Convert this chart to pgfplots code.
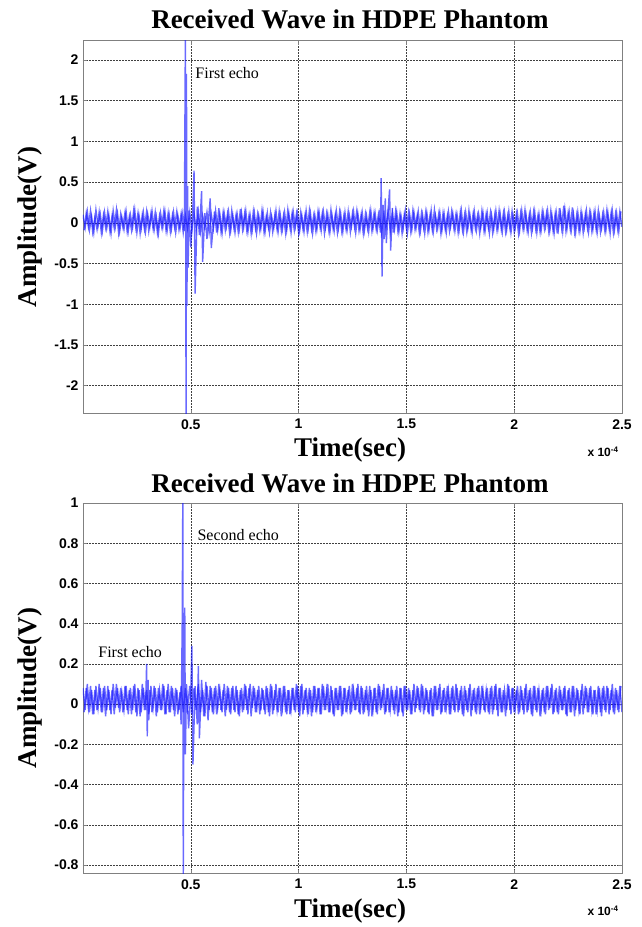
\documentclass[border=0pt]{standalone}
\usepackage{fontspec}
\setmainfont{Liberation Serif}
\setsansfont{Liberation Sans}
\usepackage{pgfplots}
\pgfplotsset{compat=1.18}
\definecolor{wave}{rgb}{0.1,0.1,1}
\pgfplotsset{
  matlab/.style={
    scale only axis,
    width=539pt,
    xmin=0, xmax=2.5,
    xtick={0.5,1,1.5,2,2.5},
    xticklabels={0.5,1,1.5,2,2.5},
    grid=major,
    major grid style={black!75, line width=0.5pt, dash pattern=on 1.6pt off 1.4pt},
    axis line style={gray, line width=0.9pt},
    tick align=inside,
    major tick length=4pt,
    tick style={gray, line width=0.6pt},
    /pgf/number format/assume math mode=true,
    ticklabel style={font=\fontsize{14}{14}\selectfont\bfseries\sffamily},
    xticklabel style={yshift=-2pt},
    yticklabel style={xshift=-1pt},
    clip=true,
  },
  wavestyle/.style={color=wave, opacity=0.65, line width=1.4pt, mark=none},
}
\begin{document}
\begin{tikzpicture}[x=1pt,y=1pt]
\useasboundingbox (0,0) rectangle (642,-927);
% ---------------- top axis ----------------
\begin{axis}[matlab,
  at={(83pt,-40.7pt)}, anchor=north west,
  height=373pt,
  ymin=-2.344, ymax=2.237,
  ytick={-2,-1.5,-1,-0.5,0,0.5,1,1.5,2},
  yticklabels={-2,-1.5,-1,-0.5,0,0.5,1,1.5,2},
]
\addplot[wavestyle] coordinates {
(0.00,0.10)(0.01,-0.06)(0.02,0.14)(0.03,-0.09)(0.04,0.08)(0.05,-0.12)(0.06,0.16)(0.07,-0.04)(0.08,0.11)(0.09,-0.10)
(0.10,0.13)(0.11,-0.07)(0.12,0.09)(0.13,-0.13)(0.14,0.15)(0.15,-0.05)(0.16,0.12)(0.17,-0.11)(0.18,0.07)(0.19,-0.08)
(0.20,0.14)(0.21,-0.10)(0.22,0.10)(0.23,-0.06)(0.24,0.16)(0.25,-0.12)(0.26,0.09)(0.27,-0.07)(0.28,0.13)(0.29,-0.11)
(0.30,0.11)(0.31,-0.05)(0.32,0.15)(0.33,-0.09)(0.34,0.08)(0.35,-0.13)(0.36,0.12)(0.37,-0.06)(0.38,0.14)(0.39,-0.10)
(0.40,0.10)(0.41,-0.08)(0.42,0.13)(0.43,-0.12)(0.44,0.09)(0.45,-0.07)
(0.460,0.12)(0.470,-0.10)(0.475,2.40)(0.478,-2.45)(0.480,1.83)(0.482,-1.02)(0.485,0.45)(0.488,-0.55)
(0.490,0.15)(0.500,-0.30)(0.510,0.22)(0.515,0.64)(0.520,-0.87)(0.530,0.20)(0.540,-0.15)(0.550,0.39)(0.555,-0.48)
(0.565,0.12)(0.575,-0.20)(0.590,0.30)(0.595,-0.31)(0.610,0.14)(0.620,-0.12)(0.630,0.18)(0.640,-0.10)
(0.65,0.13)(0.66,-0.09)(0.67,0.11)(0.68,-0.12)(0.69,0.15)
(0.70,-0.06)(0.71,0.10)(0.72,-0.11)(0.73,0.17)(0.74,-0.08)(0.75,0.12)(0.76,-0.10)(0.77,0.09)(0.78,-0.13)(0.79,0.14)
(0.80,-0.07)(0.81,0.11)(0.82,-0.09)(0.83,0.15)(0.84,-0.12)(0.85,0.08)(0.86,-0.06)(0.87,0.13)(0.88,-0.11)(0.89,0.10)
(0.90,-0.08)(0.91,0.14)(0.92,-0.10)(0.93,0.09)(0.94,-0.13)(0.95,0.16)(0.96,-0.05)(0.97,0.12)(0.98,-0.09)(0.99,0.11)
(1.00,-0.12)(1.01,0.13)(1.02,-0.07)(1.03,0.10)(1.04,-0.11)(1.05,0.15)(1.06,-0.08)(1.07,0.09)(1.08,-0.10)(1.09,0.14)
(1.10,-0.06)(1.11,0.12)(1.12,-0.13)(1.13,0.11)(1.14,-0.09)(1.15,0.16)(1.16,-0.07)(1.17,0.10)(1.18,-0.12)(1.19,0.13)
(1.20,-0.10)(1.21,0.09)(1.22,-0.08)(1.23,0.14)(1.24,-0.11)(1.25,0.12)(1.26,-0.06)(1.27,0.15)(1.28,-0.09)(1.29,0.10)
(1.30,-0.13)(1.31,0.11)(1.32,-0.07)(1.33,0.13)(1.34,-0.10)(1.35,0.12)(1.36,-0.08)
(1.370,0.10)(1.380,-0.12)(1.383,0.55)(1.387,-0.66)(1.392,0.22)(1.397,-0.20)(1.402,0.30)(1.407,-0.25)
(1.415,0.15)(1.422,0.41)(1.427,-0.34)(1.435,0.18)(1.440,-0.12)
(1.45,0.14)(1.46,-0.09)(1.47,0.11)(1.48,-0.13)(1.49,0.10)
(1.50,-0.07)(1.51,0.13)(1.52,-0.10)(1.53,0.15)(1.54,-0.08)(1.55,0.09)(1.56,-0.12)(1.57,0.12)(1.58,-0.06)(1.59,0.14)
(1.60,-0.11)(1.61,0.10)(1.62,-0.09)(1.63,0.16)(1.64,-0.07)(1.65,0.11)(1.66,-0.13)(1.67,0.12)(1.68,-0.08)(1.69,0.09)
(1.70,-0.10)(1.71,0.14)(1.72,-0.06)(1.73,0.11)(1.74,-0.12)(1.75,0.13)(1.76,-0.09)(1.77,0.10)(1.78,-0.11)(1.79,0.15)
(1.80,-0.08)(1.81,0.12)(1.82,-0.07)(1.83,0.09)(1.84,-0.13)(1.85,0.14)(1.86,-0.10)(1.87,0.11)(1.88,-0.06)(1.89,0.13)
(1.90,-0.12)(1.91,0.10)(1.92,-0.09)(1.93,0.15)(1.94,-0.08)(1.95,0.12)(1.96,-0.11)(1.97,0.09)(1.98,-0.07)(1.99,0.14)
(2.00,-0.10)(2.01,0.11)(2.02,-0.13)(2.03,0.12)(2.04,-0.06)(2.05,0.16)(2.06,-0.09)(2.07,0.10)(2.08,-0.12)(2.09,0.13)
(2.10,-0.08)(2.11,0.09)(2.12,-0.11)(2.13,0.14)(2.14,-0.07)(2.15,0.12)(2.16,-0.10)(2.17,0.15)(2.18,-0.09)(2.19,0.11)
(2.20,-0.13)(2.21,0.18)(2.22,-0.06)(2.23,0.21)(2.24,-0.10)(2.25,0.12)(2.26,-0.08)(2.27,0.19)(2.28,-0.11)(2.29,0.10)
(2.30,-0.09)(2.31,0.14)(2.32,-0.12)(2.33,0.11)(2.34,-0.07)(2.35,0.13)(2.36,-0.10)(2.37,0.12)(2.38,-0.08)(2.39,0.15)
(2.40,-0.11)(2.41,0.10)(2.42,-0.09)(2.43,0.16)(2.44,-0.06)(2.45,0.13)(2.46,-0.12)(2.47,0.11)(2.48,-0.08)(2.49,0.14)(2.50,-0.05)
};
\addplot[wavestyle] coordinates {
(0.005,-0.09)(0.015,0.12)(0.025,-0.05)(0.035,0.15)(0.045,-0.11)(0.055,0.07)(0.065,-0.08)(0.075,0.13)(0.085,-0.12)(0.095,0.10)
(0.105,-0.06)(0.115,0.14)(0.125,-0.10)(0.135,0.09)(0.145,-0.07)(0.155,0.16)(0.165,-0.12)(0.175,0.11)(0.185,-0.05)(0.195,0.13)
(0.205,-0.11)(0.215,0.08)(0.225,-0.09)(0.235,0.15)(0.245,-0.06)(0.255,0.12)(0.265,-0.13)(0.275,0.10)(0.285,-0.08)(0.295,0.14)
(0.305,-0.10)(0.315,0.11)(0.325,-0.07)(0.335,0.13)(0.345,-0.12)(0.355,0.09)(0.365,-0.05)(0.375,0.15)(0.385,-0.09)(0.395,0.12)
(0.405,-0.11)(0.415,0.10)(0.425,-0.06)(0.435,0.14)(0.445,-0.08)(0.455,0.11)(0.465,-0.12)(0.475,0.09)(0.485,-0.07)(0.495,0.13)
(0.505,-0.10)(0.515,0.12)(0.525,-0.08)(0.535,0.14)(0.545,-0.11)(0.555,0.09)(0.565,-0.06)(0.575,0.13)(0.585,-0.12)(0.595,0.11)
(0.605,-0.07)(0.615,0.15)(0.625,-0.09)(0.635,0.10)(0.645,-0.13)(0.655,0.12)(0.665,-0.05)(0.675,0.14)(0.685,-0.10)(0.695,0.09)
(0.705,-0.12)(0.715,0.11)(0.725,-0.08)(0.735,0.13)(0.745,-0.06)(0.755,0.15)(0.765,-0.11)(0.775,0.10)(0.785,-0.09)(0.795,0.12)
(0.805,-0.13)(0.815,0.09)(0.825,-0.07)(0.835,0.14)(0.845,-0.10)(0.855,0.12)(0.865,-0.12)(0.875,0.08)(0.885,-0.06)(0.895,0.15)
(0.905,-0.11)(0.915,0.10)(0.925,-0.08)(0.935,0.13)(0.945,-0.09)(0.955,0.11)(0.965,-0.12)(0.975,0.14)(0.985,-0.05)(0.995,0.12)
(1.005,-0.10)(1.015,0.09)(1.025,-0.11)(1.035,0.15)(1.045,-0.07)(1.055,0.12)(1.065,-0.13)(1.075,0.10)(1.085,-0.08)(1.095,0.13)
(1.105,-0.09)(1.115,0.14)(1.125,-0.06)(1.135,0.11)(1.145,-0.12)(1.155,0.09)(1.165,-0.10)(1.175,0.15)(1.185,-0.07)(1.195,0.12)
(1.205,-0.11)(1.215,0.13)(1.225,-0.09)(1.235,0.10)(1.245,-0.05)(1.255,0.14)(1.265,-0.12)(1.275,0.11)(1.285,-0.08)(1.295,0.13)
(1.305,-0.10)(1.315,0.09)(1.325,-0.11)(1.335,0.15)(1.345,-0.07)(1.355,0.12)(1.365,-0.09)(1.375,0.11)(1.385,-0.12)(1.395,0.10)
(1.405,-0.06)(1.415,0.14)(1.425,-0.10)(1.435,0.12)(1.445,-0.08)(1.455,0.13)(1.465,-0.11)(1.475,0.09)(1.485,-0.07)(1.495,0.15)
(1.505,-0.12)(1.515,0.11)(1.525,-0.09)(1.535,0.13)(1.545,-0.06)(1.555,0.14)(1.565,-0.10)(1.575,0.10)(1.585,-0.13)(1.595,0.12)
(1.605,-0.08)(1.615,0.15)(1.625,-0.11)(1.635,0.09)(1.645,-0.07)(1.655,0.13)(1.665,-0.09)(1.675,0.11)(1.685,-0.12)(1.695,0.14)
(1.705,-0.05)(1.715,0.12)(1.725,-0.10)(1.735,0.10)(1.745,-0.08)(1.755,0.15)(1.765,-0.11)(1.775,0.13)(1.785,-0.07)(1.795,0.09)
(1.805,-0.12)(1.815,0.14)(1.825,-0.09)(1.835,0.11)(1.845,-0.06)(1.855,0.13)(1.865,-0.10)(1.875,0.12)(1.885,-0.13)(1.895,0.10)
(1.905,-0.08)(1.915,0.15)(1.925,-0.07)(1.935,0.11)(1.945,-0.11)(1.955,0.13)(1.965,-0.09)(1.975,0.14)(1.985,-0.12)(1.995,0.09)
(2.005,-0.06)(2.015,0.12)(2.025,-0.10)(2.035,0.15)(2.045,-0.08)(2.055,0.10)(2.065,-0.11)(2.075,0.13)(2.085,-0.07)(2.095,0.14)
(2.105,-0.12)(2.115,0.11)(2.125,-0.09)(2.135,0.12)(2.145,-0.05)(2.155,0.15)(2.165,-0.10)(2.175,0.09)(2.185,-0.13)(2.195,0.13)
(2.205,-0.08)(2.215,0.12)(2.225,-0.11)(2.235,0.17)(2.245,-0.07)(2.255,0.14)(2.265,-0.09)(2.275,0.11)(2.285,-0.12)(2.295,0.13)
(2.305,-0.10)(2.315,0.10)(2.325,-0.06)(2.335,0.15)(2.345,-0.11)(2.355,0.12)(2.365,-0.08)(2.375,0.14)(2.385,-0.12)(2.395,0.09)
(2.405,-0.07)(2.415,0.13)(2.425,-0.10)(2.435,0.11)(2.445,-0.13)(2.455,0.15)(2.465,-0.09)(2.475,0.12)(2.485,-0.11)(2.495,0.14)
};
\node[anchor=west, font=\fontsize{16}{16}\selectfont] at (axis cs:0.505,1.84) {First echo};
\end{axis}
% ---------------- bottom axis ----------------
\begin{axis}[matlab,
  at={(83pt,-503pt)}, anchor=north west,
  height=370.7pt,
  ymin=-0.843, ymax=1,
  ytick={-0.8,-0.6,-0.4,-0.2,0,0.2,0.4,0.6,0.8,1},
  yticklabels={-0.8,-0.6,-0.4,-0.2,0,0.2,0.4,0.6,0.8,1},
]
\addplot[wavestyle] coordinates {
(0.00,0.08)(0.01,-0.03)(0.02,0.10)(0.03,-0.04)(0.04,0.07)(0.05,-0.05)(0.06,0.09)(0.07,-0.02)(0.08,0.08)(0.09,-0.04)
(0.10,0.09)(0.11,-0.03)(0.12,0.07)(0.13,-0.05)(0.14,0.10)(0.15,-0.02)(0.16,0.08)(0.17,-0.04)(0.18,0.06)(0.19,-0.03)
(0.20,0.09)(0.21,-0.05)(0.22,0.08)(0.23,-0.03)(0.24,0.10)(0.25,-0.06)(0.26,0.07)(0.27,-0.04)(0.28,0.08)
(0.290,-0.03)(0.295,0.20)(0.298,-0.16)(0.302,0.12)(0.305,-0.08)
(0.31,0.07)(0.32,-0.04)(0.33,0.09)(0.34,-0.06)(0.35,0.08)(0.36,-0.03)(0.37,0.10)(0.38,-0.05)(0.39,0.07)(0.40,-0.04)
(0.41,0.09)(0.42,-0.03)(0.43,0.08)(0.44,-0.05)
(0.450,0.06)(0.455,-0.10)(0.460,0.38)(0.463,1.05)(0.465,-0.90)(0.468,0.13)(0.472,0.48)(0.475,-0.25)
(0.480,0.10)(0.490,-0.12)(0.500,0.06)(0.505,0.29)(0.510,-0.30)(0.520,0.09)(0.530,-0.10)(0.535,0.19)(0.540,-0.17)
(0.550,0.12)(0.560,-0.06)(0.570,0.11)(0.580,-0.08)(0.590,0.09)
(0.60,-0.04)(0.61,0.08)(0.62,-0.05)(0.63,0.10)(0.64,-0.03)(0.65,0.07)(0.66,-0.06)(0.67,0.09)(0.68,-0.04)(0.69,0.08)
(0.70,-0.03)(0.71,0.09)(0.72,-0.05)(0.73,0.07)(0.74,-0.04)(0.75,0.10)(0.76,-0.03)(0.77,0.08)(0.78,-0.06)(0.79,0.09)
(0.80,-0.04)(0.81,0.07)(0.82,-0.05)(0.83,0.08)(0.84,-0.03)(0.85,0.09)(0.86,-0.04)(0.87,0.10)(0.88,-0.05)(0.89,0.07)
(0.90,-0.03)(0.91,0.08)(0.92,-0.06)(0.93,0.09)(0.94,-0.04)(0.95,0.07)(0.96,-0.05)(0.97,0.08)(0.98,-0.03)(0.99,0.10)
(1.00,-0.04)(1.01,0.09)(1.02,-0.05)(1.03,0.07)(1.04,-0.03)(1.05,0.08)(1.06,-0.06)(1.07,0.09)(1.08,-0.04)(1.09,0.08)
(1.10,-0.05)(1.11,0.10)(1.12,-0.03)(1.13,0.07)(1.14,-0.04)(1.15,0.09)(1.16,-0.05)(1.17,0.08)(1.18,-0.03)(1.19,0.09)
(1.20,-0.06)(1.21,0.08)(1.22,-0.04)(1.23,0.07)(1.24,-0.05)(1.25,0.10)(1.26,-0.03)(1.27,0.08)(1.28,-0.04)(1.29,0.09)
(1.30,-0.05)(1.31,0.07)(1.32,-0.03)(1.33,0.09)(1.34,-0.06)(1.35,0.08)(1.36,-0.04)(1.37,0.10)(1.38,-0.03)(1.39,0.07)
(1.40,-0.05)(1.41,0.08)(1.42,-0.04)(1.43,0.09)(1.44,-0.03)(1.45,0.07)(1.46,-0.06)(1.47,0.08)(1.48,-0.04)(1.49,0.09)
(1.50,-0.03)(1.51,0.08)(1.52,-0.05)(1.53,0.07)(1.54,-0.04)(1.55,0.09)(1.56,-0.03)(1.57,0.10)(1.58,-0.05)(1.59,0.08)
(1.60,-0.04)(1.61,0.07)(1.62,-0.06)(1.63,0.09)(1.64,-0.03)(1.65,0.08)(1.66,-0.05)(1.67,0.07)(1.68,-0.04)(1.69,0.09)
(1.70,-0.05)(1.71,0.08)(1.72,-0.03)(1.73,0.10)(1.74,-0.04)(1.75,0.07)(1.76,-0.05)(1.77,0.09)(1.78,-0.03)(1.79,0.08)
(1.80,-0.06)(1.81,0.07)(1.82,-0.04)(1.83,0.08)(1.84,-0.05)(1.85,0.09)(1.86,-0.03)(1.87,0.07)(1.88,-0.04)(1.89,0.08)
(1.90,-0.05)(1.91,0.09)(1.92,-0.03)(1.93,0.08)(1.94,-0.04)(1.95,0.07)(1.96,-0.06)(1.97,0.10)(1.98,-0.03)(1.99,0.08)
(2.00,-0.04)(2.01,0.07)(2.02,-0.05)(2.03,0.09)(2.04,-0.03)(2.05,0.08)(2.06,-0.04)(2.07,0.07)(2.08,-0.05)(2.09,0.09)
(2.10,-0.03)(2.11,0.08)(2.12,-0.06)(2.13,0.07)(2.14,-0.04)(2.15,0.09)(2.16,-0.03)(2.17,0.08)(2.18,-0.05)(2.19,0.07)
(2.20,-0.04)(2.21,0.09)(2.22,-0.03)(2.23,0.08)(2.24,-0.05)(2.25,0.07)(2.26,-0.04)(2.27,0.09)(2.28,-0.06)(2.29,0.08)
(2.30,-0.03)(2.31,0.07)(2.32,-0.05)(2.33,0.09)(2.34,-0.04)(2.35,0.08)(2.36,-0.03)(2.37,0.07)(2.38,-0.05)(2.39,0.09)
(2.40,-0.04)(2.41,0.08)(2.42,-0.03)(2.43,0.09)(2.44,-0.05)(2.45,0.07)(2.46,-0.04)(2.47,0.08)(2.48,-0.03)(2.49,0.09)(2.50,-0.04)
};
\addplot[wavestyle] coordinates {
(0.005,-0.04)(0.015,0.08)(0.025,-0.02)(0.035,0.09)(0.045,-0.05)(0.055,0.07)(0.065,-0.03)(0.075,0.10)(0.085,-0.04)(0.095,0.08)
(0.105,-0.06)(0.115,0.09)(0.125,-0.03)(0.135,0.07)(0.145,-0.05)(0.155,0.10)(0.165,-0.02)(0.175,0.08)(0.185,-0.04)(0.195,0.09)
(0.205,-0.03)(0.215,0.07)(0.225,-0.05)(0.235,0.09)(0.245,-0.04)(0.255,0.08)(0.265,-0.06)(0.275,0.10)(0.285,-0.03)(0.295,0.07)
(0.305,-0.05)(0.315,0.09)(0.325,-0.02)(0.335,0.08)(0.345,-0.04)(0.355,0.07)(0.365,-0.03)(0.375,0.09)(0.385,-0.05)(0.395,0.10)
(0.405,-0.04)(0.415,0.08)(0.425,-0.06)(0.435,0.07)(0.445,-0.03)(0.455,0.09)(0.465,-0.04)(0.475,0.08)(0.485,-0.02)(0.495,0.09)
(0.505,-0.05)(0.515,0.08)(0.525,-0.03)(0.535,0.10)(0.545,-0.04)(0.555,0.07)(0.565,-0.06)(0.575,0.09)(0.585,-0.03)(0.595,0.08)
(0.605,-0.05)(0.615,0.09)(0.625,-0.02)(0.635,0.07)(0.645,-0.04)(0.655,0.10)(0.665,-0.03)(0.675,0.08)(0.685,-0.05)(0.695,0.09)
(0.705,-0.04)(0.715,0.07)(0.725,-0.06)(0.735,0.08)(0.745,-0.03)(0.755,0.09)(0.765,-0.05)(0.775,0.10)(0.785,-0.02)(0.795,0.08)
(0.805,-0.04)(0.815,0.09)(0.825,-0.03)(0.835,0.07)(0.845,-0.05)(0.855,0.08)(0.865,-0.06)(0.875,0.09)(0.885,-0.03)(0.895,0.10)
(0.905,-0.04)(0.915,0.08)(0.925,-0.02)(0.935,0.09)(0.945,-0.05)(0.955,0.07)(0.965,-0.03)(0.975,0.08)(0.985,-0.04)(0.995,0.09)
(1.005,-0.06)(1.015,0.10)(1.025,-0.03)(1.035,0.08)(1.045,-0.05)(1.055,0.07)(1.065,-0.04)(1.075,0.09)(1.085,-0.02)(1.095,0.08)
(1.105,-0.05)(1.115,0.09)(1.125,-0.03)(1.135,0.10)(1.145,-0.04)(1.155,0.07)(1.165,-0.06)(1.175,0.08)(1.185,-0.03)(1.195,0.09)
(1.205,-0.05)(1.215,0.08)(1.225,-0.02)(1.235,0.09)(1.245,-0.04)(1.255,0.07)(1.265,-0.03)(1.275,0.10)(1.285,-0.05)(1.295,0.08)
(1.305,-0.04)(1.315,0.09)(1.325,-0.06)(1.335,0.07)(1.345,-0.03)(1.355,0.08)(1.365,-0.05)(1.375,0.09)(1.385,-0.02)(1.395,0.10)
(1.405,-0.04)(1.415,0.08)(1.425,-0.03)(1.435,0.07)(1.445,-0.05)(1.455,0.09)(1.465,-0.04)(1.475,0.08)(1.485,-0.06)(1.495,0.09)
(1.505,-0.03)(1.515,0.07)(1.525,-0.05)(1.535,0.10)(1.545,-0.02)(1.555,0.08)(1.565,-0.04)(1.575,0.09)(1.585,-0.03)(1.595,0.07)
(1.605,-0.05)(1.615,0.08)(1.625,-0.06)(1.635,0.09)(1.645,-0.03)(1.655,0.10)(1.665,-0.04)(1.675,0.08)(1.685,-0.02)(1.695,0.07)
(1.705,-0.05)(1.715,0.09)(1.725,-0.04)(1.735,0.08)(1.745,-0.03)(1.755,0.09)(1.765,-0.06)(1.775,0.07)(1.785,-0.04)(1.795,0.10)
(1.805,-0.03)(1.815,0.08)(1.825,-0.05)(1.835,0.09)(1.845,-0.02)(1.855,0.07)(1.865,-0.04)(1.875,0.08)(1.885,-0.05)(1.895,0.09)
(1.905,-0.03)(1.915,0.10)(1.925,-0.06)(1.935,0.08)(1.945,-0.04)(1.955,0.07)(1.965,-0.03)(1.975,0.09)(1.985,-0.05)(1.995,0.08)
(2.005,-0.02)(2.015,0.09)(2.025,-0.04)(2.035,0.07)(2.045,-0.05)(2.055,0.10)(2.065,-0.03)(2.075,0.08)(2.085,-0.06)(2.095,0.09)
(2.105,-0.04)(2.115,0.07)(2.125,-0.03)(2.135,0.08)(2.145,-0.05)(2.155,0.09)(2.165,-0.02)(2.175,0.10)(2.185,-0.04)(2.195,0.08)
(2.205,-0.05)(2.215,0.07)(2.225,-0.03)(2.235,0.09)(2.245,-0.06)(2.255,0.08)(2.265,-0.04)(2.275,0.09)(2.285,-0.03)(2.295,0.07)
(2.305,-0.05)(2.315,0.10)(2.325,-0.02)(2.335,0.08)(2.345,-0.04)(2.355,0.09)(2.365,-0.05)(2.375,0.07)(2.385,-0.03)(2.395,0.08)
(2.405,-0.06)(2.415,0.09)(2.425,-0.04)(2.435,0.08)(2.445,-0.03)(2.455,0.10)(2.465,-0.05)(2.475,0.07)(2.485,-0.04)(2.495,0.09)
};
\node[anchor=west, font=\fontsize{16}{16}\selectfont] at (axis cs:0.515,0.842) {Second echo};
\node[anchor=west, font=\fontsize{16}{16}\selectfont] at (axis cs:0.055,0.26) {First echo};
\end{axis}
% ---------------- titles and labels ----------------
\node[font=\fontsize{27}{27}\selectfont\bfseries] at (350,-19) {Received Wave in HDPE Phantom};
\node[font=\fontsize{27}{27}\selectfont\bfseries] at (350,-483) {Received Wave in HDPE Phantom};
\node[font=\fontsize{27}{27}\selectfont\bfseries, rotate=90] at (30,-227) {Amplitude(V)};
\node[font=\fontsize{27}{27}\selectfont\bfseries, rotate=90] at (30,-688) {Amplitude(V)};
\node[font=\fontsize{27}{27}\selectfont\bfseries] at (350,-450) {Time(sec)};
\node[font=\fontsize{27}{27}\selectfont\bfseries] at (350,-911) {Time(sec)};
\node[font=\fontsize{12}{12}\selectfont\bfseries\sffamily] at (603,-452) {x 10\textsuperscript{-4}};
\node[font=\fontsize{12}{12}\selectfont\bfseries\sffamily] at (603,-911) {x 10\textsuperscript{-4}};
\end{tikzpicture}
\end{document}
